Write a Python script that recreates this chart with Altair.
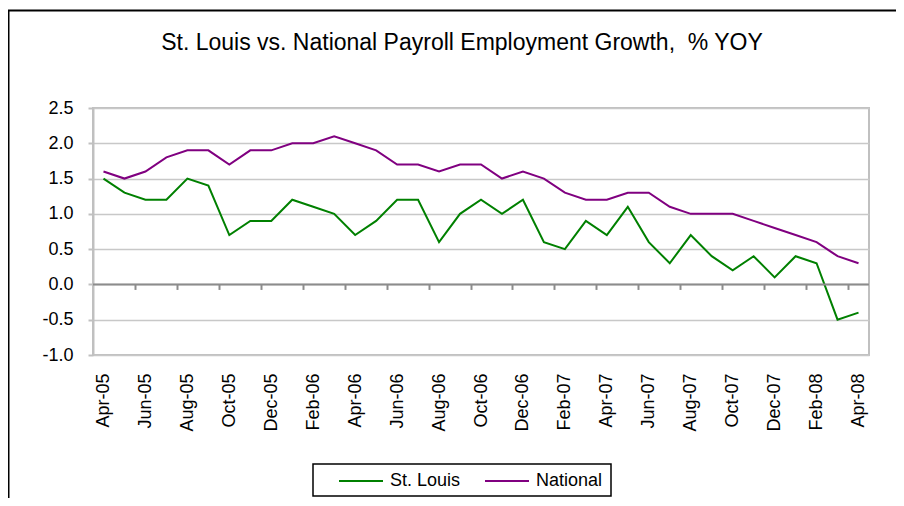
import altair as alt
import pandas as pd

months = ["Apr-05", "May-05", "Jun-05", "Jul-05", "Aug-05", "Sep-05", "Oct-05", "Nov-05", "Dec-05",
          "Jan-06", "Feb-06", "Mar-06", "Apr-06", "May-06", "Jun-06", "Jul-06", "Aug-06", "Sep-06",
          "Oct-06", "Nov-06", "Dec-06", "Jan-07", "Feb-07", "Mar-07", "Apr-07", "May-07", "Jun-07",
          "Jul-07", "Aug-07", "Sep-07", "Oct-07", "Nov-07", "Dec-07", "Jan-08", "Feb-08", "Mar-08",
          "Apr-08"]
st_louis = [1.5, 1.3, 1.2, 1.2, 1.5, 1.4, 0.7, 0.9, 0.9, 1.2, 1.1, 1.0, 0.7, 0.9, 1.2, 1.2, 0.6, 1.0,
            1.2, 1.0, 1.2, 0.6, 0.5, 0.9, 0.7, 1.1, 0.6, 0.3, 0.7, 0.4, 0.2, 0.4, 0.1, 0.4, 0.3, -0.5,
            -0.4]
national = [1.6, 1.5, 1.6, 1.8, 1.9, 1.9, 1.7, 1.9, 1.9, 2.0, 2.0, 2.1, 2.0, 1.9, 1.7, 1.7, 1.6, 1.7,
            1.7, 1.5, 1.6, 1.5, 1.3, 1.2, 1.2, 1.3, 1.3, 1.1, 1.0, 1.0, 1.0, 0.9, 0.8, 0.7, 0.6, 0.4,
            0.3]
series_names = ["St. Louis", "National"]
series_colors = ["#008000", "#800080"]
y_ticks = [-1.0, -0.5, 0.0, 0.5, 1.0, 1.5, 2.0, 2.5]
title_text = "St. Louis vs. National Payroll Employment Growth,\u00a0 % YOY"

FONT = "Liberation Sans"
W, H = 776, 247
Y_MIN, Y_MAX = -1.0, 2.5

df = pd.DataFrame({
    "month": months * 2,
    "series": [series_names[0]] * len(months) + [series_names[1]] * len(months),
    "value": st_louis + national,
})

boundaries = list(range(2, len(months), 2))
zero_df = pd.DataFrame({"start": [0], "end": [len(months)], "value": [0.0]})
dummy = pd.DataFrame({"a": [0]})

y_scale = alt.Scale(domain=[Y_MIN, Y_MAX], nice=False)
y_axis = alt.Axis(values=y_ticks, labelExpr="replace(format(datum.value, '.1f'), '\u2212', '-')",
                  labelFontSize=18, labelColor="black", labelPadding=15, tickSize=5,
                  tickColor="#c0c0c0", tickWidth=2, domainColor="#c0c0c0", domainWidth=2,
                  gridColor="#c8c8c8", gridWidth=1.5, labelOverlap=False, title=None)

lines = alt.Chart(df).mark_line(strokeWidth=2).encode(
    x=alt.X("month:O", sort=months, scale=alt.Scale(type="point", padding=0.5),
            axis=alt.Axis(orient="bottom", values=months[::2], labelAngle=270, labelAlign="right",
                          labelBaseline="middle", ticks=False, domain=False, grid=False,
                          labelPadding=18, labelFontSize=18, labelColor="black", title=None)),
    y=alt.Y("value:Q", scale=y_scale, axis=y_axis),
    color=alt.Color("series:N", scale=alt.Scale(domain=series_names, range=series_colors),
                    legend=alt.Legend(orient="none", legendX=245, legendY=350, direction="horizontal",
                                      title=None, symbolType="stroke", symbolSize=1936,
                                      symbolStrokeWidth=2, labelFontSize=18, labelColor="black",
                                      labelOffset=6, columnPadding=20, padding=0)),
)

zero_layer = alt.Chart(zero_df).mark_rule(color="#8c8c8c", strokeWidth=2).encode(
    x=alt.X("start:Q", scale=alt.Scale(domain=[0, len(months)], nice=False, zero=False),
            axis=alt.Axis(orient="bottom", values=boundaries, offset=-(H * (0 - Y_MIN) / (Y_MAX - Y_MIN)),
                          labels=False, grid=False, domain=False, ticks=True, tickSize=5, tickWidth=2,
                          tickColor="#8c8c8c", title=None)),
    x2="end:Q",
    y=alt.Y("value:Q", scale=y_scale, axis=y_axis),
)

frame = alt.Chart(dummy).mark_rect(fill=None, stroke="black", strokeWidth=2).encode(
    x=alt.value(-84.5), x2=alt.value(840), y=alt.value(-97.5), y2=alt.value(420)
)
legend_box = alt.Chart(dummy).mark_rect(fill=None, stroke="black", strokeWidth=1.5).encode(
    x=alt.value(220), x2=alt.value(518), y=alt.value(356), y2=alt.value(388)
)
title = alt.Chart(dummy).mark_text(fontSize=23, font=FONT, align="center", baseline="alphabetic",
                                   color="black").encode(
    x=alt.value(369), y=alt.value(-58), text=alt.value(title_text)
)

chart = alt.layer(lines, zero_layer, frame, legend_box, title).resolve_scale(
    x="independent"
).resolve_axis(x="independent").properties(
    width=W, height=H,
    autosize=alt.AutoSizeParams(type="none"),
    padding={"left": 85, "top": 100, "right": 27, "bottom": 143},
).configure(font=FONT).configure_view(stroke="#c0c0c0", strokeWidth=2).configure_axis(
    labelFont=FONT
).configure_legend(labelFont=FONT)

chart.save("out.html", embed_options={"renderer": "svg", "actions": False})
